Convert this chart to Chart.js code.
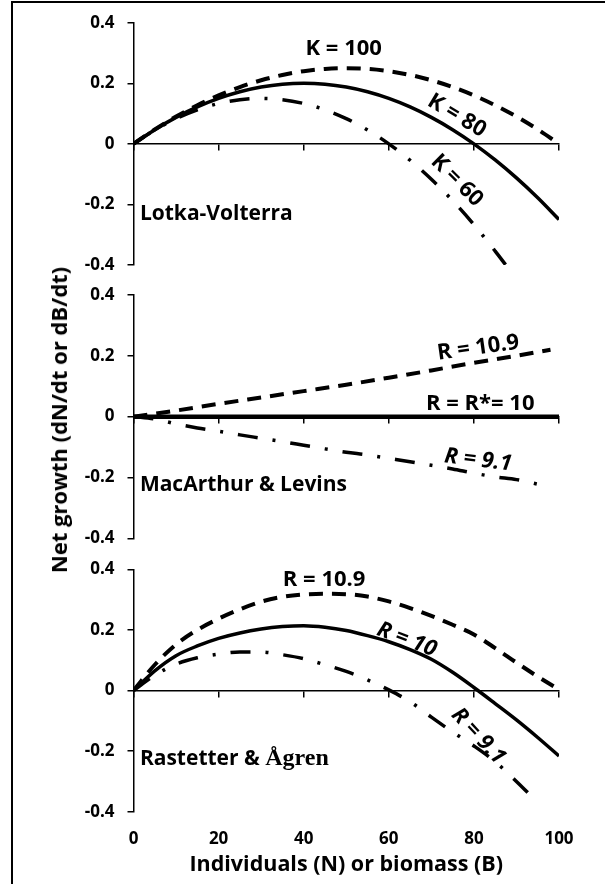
<!DOCTYPE html>
<html>
<head>
<meta charset="utf-8">
<script src="https://cdn.jsdelivr.net/npm/chart.js@4.4.1/dist/chart.umd.min.js"></script>
<style>
  html, body { margin: 0; padding: 0; background: #fff; }
  body { width: 605px; height: 884px; position: relative; overflow: hidden; }
  canvas { position: absolute; left: 0; }
  #frame { position: absolute; left: 11px; top: 1px; width: 700px; height: 1000px;
           border-left: 2px solid #000; border-top: 2px solid #000; }
  #ytitle { position: absolute; left: 58px; top: 420px; transform: translate(-50%, -50%) rotate(-90deg);
            white-space: nowrap; font: bold 22px "Open Sans", sans-serif; color: #000; }
</style>
</head>
<body>
<div id="frame"></div>
<canvas id="c1" width="605" height="280" style="top:0px"></canvas>
<canvas id="c2" width="605" height="276" style="top:280px"></canvas>
<canvas id="c3" width="605" height="328" style="top:556px"></canvas>
<div id="ytitle">Net growth (dN/dt or dB/dt)</div>
<script>
// ---------- data ----------
const xTicks = [0, 20, 40, 60, 80, 100];
const yTickLabels = ['-0.4', '-0.2', '0', '0.2', '0.4'];
const xTitle = 'Individuals (N) or biomass (B)';

// Panel 1: Lotka-Volterra
const nLV = [0,5,10,15,20,25,30,35,40,45,50,55,60,65,70,75,80,85,90,95,100];
const lvK100 = [0,0.0475,0.09,0.1275,0.16,0.1875,0.21,0.2275,0.24,0.2475,0.25,0.2475,0.24,0.2275,0.21,0.1875,0.16,0.1275,0.09,0.0475,0];
const lvK80  = [0,0.0469,0.0875,0.1219,0.15,0.1719,0.1875,0.1969,0.2,0.1969,0.1875,0.1719,0.15,0.1219,0.0875,0.0469,0,-0.0531,-0.1125,-0.1781,-0.25];
const nLV60  = [0,5,10,15,20,25,30,35,40,45,50,55,60,65,70,75,80,85,87.5];
const lvK60  = [0,0.0458,0.0833,0.1125,0.1333,0.1458,0.15,0.1458,0.1333,0.1125,0.0833,0.0458,0,-0.0542,-0.1167,-0.1875,-0.2667,-0.3542,-0.4];

// Panel 2: MacArthur & Levins
const nML109 = [0,10,20,30,40,50,60,70,80,90,98];
const ml109  = [0,0.02,0.042,0.063,0.084,0.105,0.128,0.152,0.177,0.2,0.22];
const nML10  = [0,100];
const ml10   = [0,0];
const nML91  = [0,5,10,15,20,25,30,35,40,45,50,55,60,65,70,75,80,85,90,96];
const ml91   = [0,-0.008,-0.024,-0.037,-0.048,-0.06,-0.071,-0.082,-0.094,-0.106,-0.117,-0.126,-0.137,-0.148,-0.16,-0.172,-0.186,-0.198,-0.207,-0.225];

// Panel 3: Rastetter & Agren
const nRA   = [0,5,10,15,20,25,30,35,40,45,50,55,60,65,70,75,80,85,90,95,100];
const ra109 = [0,0.085,0.152,0.2,0.237,0.268,0.293,0.309,0.317,0.319,0.318,0.31,0.294,0.272,0.246,0.217,0.185,0.14,0.092,0.046,0.003];
const ra10  = [0,0.065,0.115,0.147,0.172,0.19,0.203,0.211,0.214,0.209,0.198,0.181,0.161,0.135,0.103,0.06,0.01,-0.043,-0.097,-0.155,-0.216];
const nRA91 = [0,5,10,15,20,25,30,35,40,45,50,55,60,65,70,75,80,85,90,95];
const ra91  = [0,0.05,0.087,0.108,0.12,0.127,0.127,0.118,0.105,0.085,0.063,0.035,0.002,-0.037,-0.088,-0.137,-0.183,-0.235,-0.3,-0.37];

// ---------- helpers ----------
const FONT = '"Open Sans", sans-serif';
const pts = (xs, ys) => xs.map((x, i) => ({x: x, y: ys[i]}));
const DASHED = [14, 9];
const DASHDOT = [20, 15, 3, 15];

function ds(xs, ys, style) {
  const d = {
    data: pts(xs, ys), borderColor: '#000', backgroundColor: '#000',
    pointRadius: 0, fill: false, cubicInterpolationMode: 'monotone',
    borderCapStyle: 'butt', borderJoinStyle: 'round', borderWidth: 3.5
  };
  if (style === 'dash') { d.borderDash = DASHED; d.borderWidth = 4; }
  if (style === 'dashdot') { d.borderDash = DASHDOT; d.borderWidth = 3.5; }
  if (style === 'thick') { d.borderWidth = 4.5; }
  return d;
}

const annotPlugin = {
  id: 'annot',
  afterDatasetsDraw(chart, args, opts) {
    const ctx = chart.ctx, xs = chart.scales.x, ys = chart.scales.y;
    (opts.items || []).forEach(it => {
      ctx.save();
      ctx.translate(xs.getPixelForValue(it.x), ys.getPixelForValue(it.y));
      ctx.rotate((it.rot || 0) * Math.PI / 180);
      ctx.fillStyle = '#000';
      ctx.textBaseline = 'middle';
      const parts = it.parts || [{text: it.text, font: it.font}];
      let total = 0;
      parts.forEach(p => { ctx.font = p.font; p.w = ctx.measureText(p.text).width; total += p.w; });
      let x0 = it.align === 'left' ? 0 : -total / 2;
      parts.forEach(p => { ctx.font = p.font; ctx.textAlign = 'left'; ctx.fillText(p.text, x0, 0); x0 += p.w; });
      ctx.restore();
    });
  }
};

const LBL = 'bold 22px ' + FONT;
const LBLI = 'italic bold 22px ' + FONT;
const PNL = 'bold 21px ' + FONT;

function makeOptions(pad, items, bottomAxis) {
  const scales = {
    x: {
      type: 'linear', min: 0, max: 100, position: {y: 0},
      ticks: {display: false, stepSize: 20},
      afterBuildTicks: s => { s.ticks = xTicks.map(v => ({value: v})); },
      grid: {drawOnChartArea: false, drawTicks: true, tickLength: 6, color: '#000', lineWidth: 1.5},
      border: {display: true, color: '#000', width: 1.5},
      afterFit: s => { s.height = 0; }
    },
    y: {
      type: 'linear', min: -0.4, max: 0.4,
      afterBuildTicks: s => { s.ticks = yTickLabels.map(t => ({value: parseFloat(t)})); },
      ticks: {
        padding: 13, color: '#000', font: {family: FONT, size: 17, weight: 'bold'},
        callback: (v) => yTickLabels.find(t => Math.abs(parseFloat(t) - v) < 1e-9)
      },
      grid: {drawOnChartArea: false, drawTicks: true, tickLength: 6, color: '#000', lineWidth: 1.5},
      border: {display: true, color: '#000', width: 1.5},
      afterFit: s => { s.width = 133.5; s.paddingTop = 0; s.paddingBottom = 0; }
    }
  };
  if (bottomAxis) {
    scales.xb = {
      type: 'linear', min: 0, max: 100, position: 'bottom',
      afterBuildTicks: s => { s.ticks = xTicks.map(v => ({value: v})); },
      ticks: {padding: 17, color: '#000', maxRotation: 0, autoSkip: false,
              font: {family: FONT, size: 17, weight: 'bold'}},
      grid: {display: false, drawTicks: false},
      border: {display: false},
      title: {display: true, text: xTitle, color: '#000', padding: {top: 0, bottom: 6},
              font: {family: FONT, size: 21.5, weight: 'bold'}},
      afterFit: s => { s.height = 72.3; s.paddingLeft = 0; s.paddingRight = 0; }
    };
  }
  return {
    responsive: false, animation: false, devicePixelRatio: 1,
    layout: {padding: pad},
    plugins: {legend: {display: false}, tooltip: {enabled: false}, annot: {items: items}},
    scales: scales
  };
}

// ---------- charts ----------
new Chart(document.getElementById('c1'), {
  type: 'line',
  data: {datasets: [ds(nLV, lvK100, 'dash'), ds(nLV, lvK80, 'solid'), ds(nLV60, lvK60, 'dashdot')]},
  options: makeOptions({top: 22.7, bottom: 15, left: 0, right: 46}, [
    {text: 'K = 100', font: LBL, x: 49.4, y: 0.314, rot: 0},
    {text: 'K = 80', font: LBL, x: 76, y: 0.093, rot: 31},
    {text: 'K = 60', font: LBL, x: 76, y: -0.121, rot: 45},
    {text: 'Lotka-Volterra', font: PNL, x: 1.5, y: -0.233, align: 'left'}
  ], false),
  plugins: [annotPlugin]
});

new Chart(document.getElementById('c2'), {
  type: 'line',
  data: {datasets: [ds(nML109, ml109, 'dash'), ds(nML10, ml10, 'thick'), ds(nML91, ml91, 'dashdot')]},
  options: makeOptions({top: 15, bottom: 17.7, left: 0, right: 46}, [
    {text: 'R = 10.9', font: LBL, x: 81, y: 0.226, rot: -8},
    {text: 'R = R*= 10', font: LBL, x: 81.5, y: 0.042, rot: 0},
    {text: 'R = 9.1', font: LBLI, x: 81, y: -0.143, rot: 7},
    {text: 'MacArthur & Levins', font: PNL, x: 1.5, y: -0.225, align: 'left'}
  ], false),
  plugins: [annotPlugin]
});

new Chart(document.getElementById('c3'), {
  type: 'line',
  data: {datasets: [ds(nRA, ra109, 'dash'), ds(nRA, ra10, 'solid'), ds(nRA91, ra91, 'dashdot')]},
  options: makeOptions({top: 13.3, bottom: 0, left: 0, right: 46}, [
    {text: 'R = 10.9', font: LBL, x: 44.8, y: 0.366, rot: 0},
    {text: 'R = 10', font: LBLI, x: 64.2, y: 0.168, rot: 21},
    {text: 'R = 9.1', font: LBLI, x: 81, y: -0.15, rot: 47},
    {parts: [{text: 'Rastetter & ', font: PNL}, {text: 'Ågren', font: 'bold 24px "Liberation Serif", serif'}],
     x: 1.5, y: -0.227, align: 'left'}
  ], true),
  plugins: [annotPlugin]
});
</script>
</body>
</html>
